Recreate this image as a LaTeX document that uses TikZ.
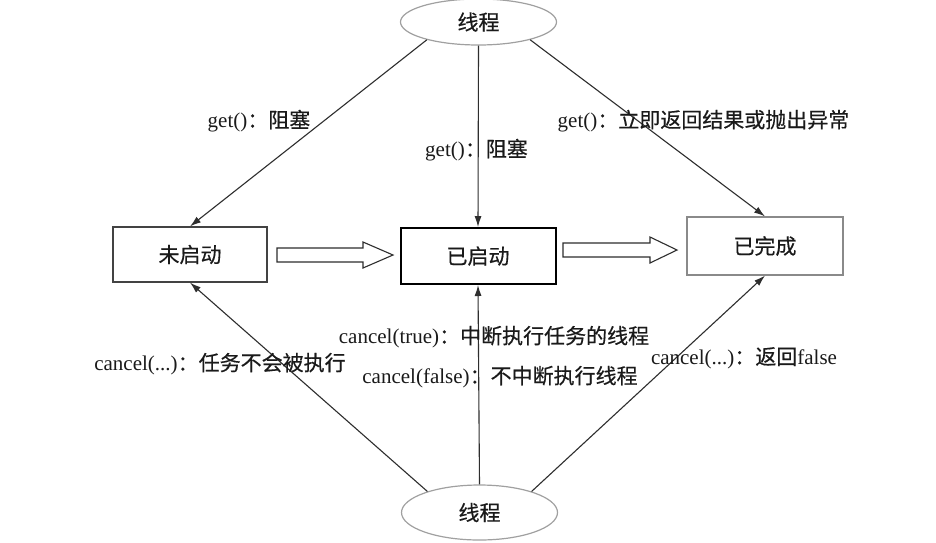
\documentclass[tikz,border=0pt]{standalone}
\usepackage{fontspec}
\setmainfont{Liberation Serif}
\newfontfamily\cjk[FakeBold=0.4]{Noto Sans CJK SC}
\usetikzlibrary{arrows.meta,shapes.geometric}
\newcommand{\zh}[1]{{\cjk #1}}
\definecolor{ink}{HTML}{1A1A1A}
\definecolor{linec}{HTML}{2E2E2E}
\definecolor{ellc}{HTML}{A0A0A0}
\definecolor{boxg}{HTML}{8A8A8A}
\begin{document}
\begin{tikzpicture}[x=1pt,y=-1pt,
  every node/.style={text=ink,font=\fontsize{21}{25}\selectfont},
  ell/.style={ellipse,draw=ellc,line width=1.2pt,minimum width=156pt,inner sep=0pt},
  statebox/.style={rectangle,draw,inner sep=0pt},
  conn/.style={draw=linec,line width=1.1pt,-{Latex[length=11pt,width=7pt]}},
  hollow/.style={draw=linec,line width=1.1pt,fill=white,line join=miter},
  lbl/.style={inner sep=0pt}]
\fill[white] (0,0) rectangle (936,542);
\useasboundingbox (0,0) rectangle (936,542);

% thread ellipses
\node[ell,minimum height=46pt] (t) at (478.5,22) {\zh{线程}};
\node[ell,minimum height=55pt] (b) at (479.5,512.5) {\zh{线程}};

% state boxes
\node[statebox,draw=linec!90,line width=1.2pt,minimum width=154pt,minimum height=55pt] (l) at (190,254.5) {\zh{未启动}};
\node[statebox,draw=black,line width=2pt,minimum width=155pt,minimum height=56pt] (m) at (478,256) {\zh{已启动}};
\node[statebox,draw=boxg,line width=1.2pt,minimum width=156pt,minimum height=58pt] (r) at (765,246) {\zh{已完成}};

% hollow transition arrows
\draw[hollow] (277,248) -- (363,248) -- (363,242) -- (393,255) -- (363,268) -- (363,262) -- (277,262) -- cycle;
\draw[hollow] (563,243) -- (650,243) -- (650,237) -- (677,250) -- (650,263) -- (650,257) -- (563,257) -- cycle;

% get() connectors
\draw[conn] (t.199) -- (l.north);
\draw[conn] (t.south) -- (m.north);
\draw[conn] (t.-19) -- (r.north);

% cancel() connectors
\draw[conn] (b.158) -- (l.south);
\draw[conn] (b.north) -- (m.south);
\draw[conn] (b.22) -- (r.south);

% labels
\node[lbl] (g1) at (259,121) {get()\zh{：阻塞}};
\node[lbl] (g2) at (476.5,150) {get()\zh{：阻塞}};
\node[lbl] (g3) at (703.5,121) {get()\zh{：立即返回结果或抛出异常}};
\node[lbl] (c1) at (220,364) {cancel(...)\zh{：任务不会被执行}};
\node[lbl] (c2) at (494,337) {cancel(true)\zh{：中断执行任务的线程}};
\node[lbl] (c3) at (500,377) {cancel(false)\zh{：不中断执行线程}};
\node[lbl] (c4) at (744,358) {cancel(...)\zh{：返回}false};
\end{tikzpicture}
\end{document}
